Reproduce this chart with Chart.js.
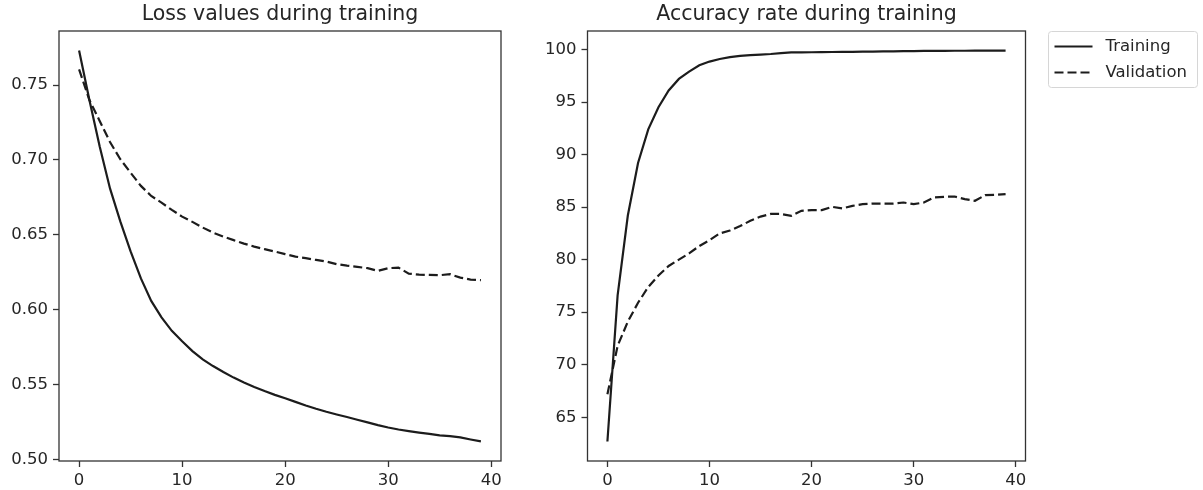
<!DOCTYPE html>
<html>
<head>
<meta charset="utf-8">
<script src="https://cdn.jsdelivr.net/npm/chart.js@4.4.1/dist/chart.umd.min.js"></script>
<style>
  html, body { margin: 0; padding: 0; background: #fff; }
  #wrap { position: relative; width: 1203px; height: 490px; overflow: hidden; }
  #lossChart { position: absolute; left: 0; top: 0; }
  #accChart { position: absolute; left: 520px; top: 0; }
</style>
</head>
<body>
<div id="wrap">
  <canvas id="lossChart" width="520" height="490"></canvas>
  <canvas id="accChart" width="683" height="490"></canvas>
</div>
<script>
// epochs 0..39
const epochs = [0, 1, 2, 3, 4, 5, 6, 7, 8, 9, 10, 11, 12, 13, 14, 15, 16, 17, 18, 19,
  20, 21, 22, 23, 24, 25, 26, 27, 28, 29, 30, 31, 32, 33, 34, 35, 36, 37, 38, 39]

const trainLoss = [0.773, 0.740, 0.709, 0.681, 0.659, 0.639, 0.621, 0.606, 0.595, 0.586,
  0.579, 0.5725, 0.567, 0.5625, 0.5585, 0.5548, 0.5515, 0.5485, 0.5458, 0.5433,
  0.541, 0.5386, 0.5362, 0.534, 0.532, 0.5302, 0.5285, 0.5267, 0.5249, 0.5231,
  0.5215, 0.5202, 0.5191, 0.5181, 0.5172, 0.5163, 0.5157, 0.5149, 0.5135, 0.5122]
const valLoss = [0.7605, 0.740, 0.726, 0.712, 0.7005, 0.6915, 0.6827, 0.676, 0.6715, 0.6667,
  0.6622, 0.6587, 0.6549, 0.6515, 0.6489, 0.6465, 0.6442, 0.6422, 0.6405, 0.6389,
  0.6372, 0.6355, 0.6345, 0.6333, 0.6322, 0.6305, 0.6295, 0.6287, 0.6278, 0.626,
  0.6278, 0.6282, 0.6242, 0.6235, 0.6233, 0.6231, 0.6238, 0.6215, 0.6202, 0.6198]

const trainAcc = [62.7, 76.6, 84.2, 89.2, 92.4, 94.5, 96.1, 97.2, 97.9, 98.5,
  98.85, 99.1, 99.28, 99.4, 99.47, 99.52, 99.57, 99.65, 99.72, 99.73,
  99.74, 99.75, 99.76, 99.77, 99.78, 99.79, 99.8, 99.82, 99.83, 99.84,
  99.85, 99.86, 99.87, 99.87, 99.88, 99.88, 99.89, 99.89, 99.9, 99.9]
const valAcc = [67.2, 71.8, 74.1, 75.9, 77.4, 78.5, 79.4, 80.0, 80.6, 81.3,
  81.85, 82.5, 82.77, 83.2, 83.7, 84.1, 84.35, 84.35, 84.17, 84.65,
  84.71, 84.71, 85.03, 84.87, 85.12, 85.28, 85.34, 85.34, 85.34, 85.44,
  85.28, 85.44, 85.92, 85.98, 86.01, 85.76, 85.6, 86.14, 86.17, 86.24]

const xTicks = [0, 10, 20, 30, 40]
const lossTicks = [0.50, 0.55, 0.60, 0.65, 0.70, 0.75]
const accTicks = [65, 70, 75, 80, 85, 90, 95, 100]

const seriesNames = ['Training', 'Validation']

const INK = '#1c1c1c'
const TEXT = '#262626'
const FONT = "'DejaVu Sans', sans-serif"

// matplotlib-style 5% margins
const padRange = (arrs) => {
  const all = [].concat(...arrs)
  const lo = Math.min(...all), hi = Math.max(...all)
  const m = (hi - lo) * 0.05
  return {min: lo - m, max: hi + m}
}
const xRange = padRange([epochs])

const frame = {
  id: 'frame',
  afterDatasetsDraw(chart) {
    const {ctx, chartArea: a} = chart
    ctx.save()
    ctx.strokeStyle = '#333'
    ctx.lineWidth = 1.3
    ctx.strokeRect(a.left, a.top, a.right - a.left, a.bottom - a.top)
    ctx.restore()
  }
}

const sideLegend = {
  id: 'sideLegend',
  afterDraw(chart) {
    const {ctx, chartArea: a} = chart
    const bx = a.right + 23, by = a.top + 0.5, bw = 149, bh = 56
    ctx.save()
    ctx.beginPath()
    ctx.roundRect(bx, by, bw, bh, 3)
    ctx.fillStyle = '#fff'
    ctx.fill()
    ctx.strokeStyle = '#d6d6d6'
    ctx.lineWidth = 1
    ctx.stroke()
    ctx.font = '16.5px ' + FONT
    ctx.textBaseline = 'middle'
    chart.data.datasets.forEach((ds, i) => {
      const ry = by + 15 + i * 26
      ctx.beginPath()
      ctx.setLineDash(ds.borderDash || [])
      ctx.strokeStyle = ds.borderColor
      ctx.lineWidth = ds.borderWidth
      ctx.moveTo(bx + 6, ry)
      ctx.lineTo(bx + 44, ry)
      ctx.stroke()
      ctx.setLineDash([])
      ctx.fillStyle = TEXT
      ctx.fillText(ds.label, bx + 57, ry)
    })
    ctx.restore()
  }
}

const makeChart = (el, title, train, val, yTicks, decimals, yWidth, padRight, plugins) => {
  const yRange = padRange([train, val])
  return new Chart(el, {
    type: 'line',
    data: {
      datasets: [
        {
          label: seriesNames[0],
          data: epochs.map((e, i) => ({x: e, y: train[i]})),
          borderColor: INK,
          borderWidth: 2.2,
          pointRadius: 0,
          tension: 0,
        },
        {
          label: seriesNames[1],
          data: epochs.map((e, i) => ({x: e, y: val[i]})),
          borderColor: INK,
          borderWidth: 2.2,
          borderDash: [9, 4],
          pointRadius: 0,
          tension: 0,
        },
      ],
    },
    options: {
      responsive: false,
      animation: false,
      devicePixelRatio: 1,
      layout: {padding: {left: 0, right: padRight, top: 0, bottom: 0}},
      plugins: {
        legend: {display: false},
        tooltip: {enabled: false},
        title: {
          display: true,
          text: title,
          fullSize: false,
          color: TEXT,
          font: {family: FONT, size: 20.5, weight: 'normal'},
          padding: {top: 2, bottom: 4.4},
        },
      },
      scales: {
        x: {
          type: 'linear',
          min: xRange.min,
          max: xRange.max,
          afterBuildTicks: s => { s.ticks = xTicks.map(v => ({value: v})) },
          afterFit: s => { s.height = 29 },
          border: {display: false},
          grid: {drawOnChartArea: false, drawTicks: true, tickLength: 6, tickColor: '#333', tickWidth: 1.3},
          ticks: {color: TEXT, font: {family: FONT, size: 16.5}, padding: 4, maxRotation: 0, callback: v => String(v)},
        },
        y: {
          type: 'linear',
          min: yRange.min,
          max: yRange.max,
          afterBuildTicks: s => { s.ticks = yTicks.map(v => ({value: v})) },
          afterFit: s => { s.width = yWidth },
          border: {display: false},
          grid: {drawOnChartArea: false, drawTicks: true, tickLength: 6, tickColor: '#333', tickWidth: 1.3},
          ticks: {color: TEXT, font: {family: FONT, size: 16.5}, padding: 5, callback: v => v.toFixed(decimals)},
        },
      },
    },
    plugins: plugins,
  })
}

makeChart(document.getElementById('lossChart'), 'Loss values during training',
  trainLoss, valLoss, lossTicks, 2, 59, 19, [frame])
makeChart(document.getElementById('accChart'), 'Accuracy rate during training',
  trainAcc, valAcc, accTicks, 0, 67.5, 177.5, [frame, sideLegend])
</script>
</body>
</html>
